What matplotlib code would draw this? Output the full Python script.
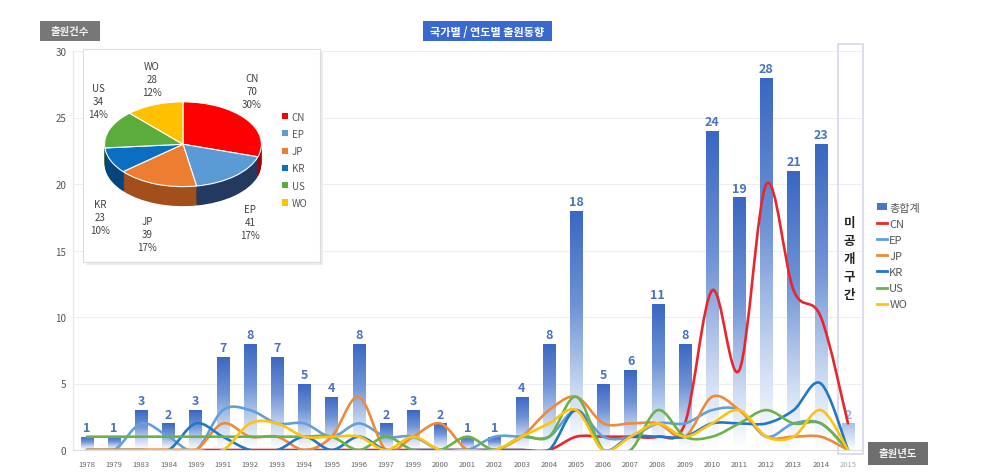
import numpy as np
import matplotlib
matplotlib.use("Agg")
import matplotlib.pyplot as plt
from matplotlib.path import Path
from matplotlib.patches import PathPatch, Patch, Rectangle
from matplotlib.lines import Line2D
from matplotlib.colors import LinearSegmentedColormap

plt.rcParams['font.family'] = ['Noto Sans CJK KR', 'DejaVu Sans']

# ---- data ----
years = ['1978', '1979', '1983', '1984', '1989', '1991', '1992', '1993', '1994', '1995',
         '1996', '1997', '1999', '2000', '2001', '2002', '2003', '2004', '2005', '2006',
         '2007', '2008', '2009', '2010', '2011', '2012', '2013', '2014', '2015']
totals = [1, 1, 3, 2, 3, 7, 8, 7, 5, 4, 8, 2, 3, 2, 1, 1, 4, 8, 18, 5, 6, 11, 8, 24, 19, 28, 21, 23, 2]

cn = [0, 0, 0, 0, 0, 0, 0, 0, 0, 0, 0, 0, 0, 0, 0, 0, 0, 0, 1, 1, 1, 1, 2, 12, 6, 20, 12, 10, 2]
ep = [0, 0, 2, 1, 0, 3, 3, 2, 2, 1, 2, 1, 1, 0, 0, 1, 1, 1, 3, 1, 1, 2, 2, 3, 3, 1, 2, 2, 0]
jp = [0, 0, 0, 0, 0, 2, 1, 1, 0, 1, 4, 0, 1, 2, 0, 0, 1, 3, 4, 2, 2, 2, 1, 4, 3, 1, 1, 1, 0]
kr = [0, 0, 0, 0, 2, 1, 0, 0, 1, 0, 1, 0, 0, 0, 0, 0, 0, 0, 3, 0, 1, 1, 1, 2, 2, 2, 3, 5, 0]
us = [1, 1, 1, 1, 1, 1, 1, 1, 1, 1, 0, 1, 0, 0, 1, 0, 1, 1, 4, 0, 0, 3, 1, 1, 2, 3, 2, 2, 0]
wo = [0, 0, 0, 0, 0, 0, 2, 2, 1, 1, 1, 0, 1, 0, 0, 0, 1, 2, 3, 0, 1, 2, 1, 2, 3, 1, 1, 3, 0]

countries = ['CN', 'EP', 'JP', 'KR', 'US', 'WO']
pie_counts = [70, 41, 39, 23, 34, 28]

line_colors = ['#e8262b', '#62a0dc', '#ef8a3c', '#1f78c8', '#6cb24a', '#ffc20e']
pie_colors = ['#ff0000', '#5b9bd5', '#ed7d31', '#0a6fc2', '#5aad3a', '#ffc000']
side_colors = ['#a00000', '#24395e', '#a34f1c', '#03457e', '#3d6b22', '#b08600']

W, H = 995, 477


def fx(x):
    return x / W


def fy(y):
    return 1 - y / H


def smooth(xs, ys):
    pts = np.column_stack([xs, ys]).astype(float)
    p = np.vstack([pts[0], pts, pts[-1]])
    verts = [pts[0]]
    codes = [Path.MOVETO]
    for i in range(1, len(p) - 2):
        p0, p1, p2, p3 = p[i - 1], p[i], p[i + 1], p[i + 2]
        verts += [p1 + (p2 - p0) / 6, p2 - (p3 - p1) / 6, p2]
        codes += [Path.CURVE4] * 3
    return Path(verts, codes)


def label_box(x0, y0, x1, y1, text, fc, size, color='white'):
    # box drawn in pixel coords, text centred on it
    fig.add_artist(Rectangle((fx(x0), fy(y1)), (x1 - x0) / W, (y1 - y0) / H,
                             transform=fig.transFigure, fc=fc, ec='none'))
    fig.text(fx((x0 + x1) / 2), fy((y0 + y1) / 2), text, ha='center', va='center',
             fontsize=size, fontweight='bold', color=color)


fig = plt.figure(figsize=(9.95, 4.77), dpi=100)
ax = fig.add_axes([fx(73.4), fy(451), (861.6 - 73.4) / W, (451 - 52) / H])

x = np.arange(len(years))
bars = ax.bar(x, totals, width=0.46, color='none', edgecolor='none', zorder=2)

cmap = LinearSegmentedColormap.from_list(
    'bar', [(0, '#ffffff'), (0.25, '#c9d8f1'), (0.6, '#6f93d6'), (1, '#3a67c2')])
cmap_pale = LinearSegmentedColormap.from_list('pale', ['#ffffff', '#a9bfe6'])
grad = np.linspace(0, 1, 100).reshape(-1, 1)
for i, rect in enumerate(bars):
    x0 = rect.get_x()
    im = ax.imshow(grad, extent=(x0, x0 + rect.get_width(), 0, rect.get_height()),
                   origin='lower', cmap=cmap_pale if years[i] == '2015' else cmap,
                   vmin=0, vmax=1, aspect='auto', zorder=2)
    im.set_clip_path(rect)

labels = ax.bar_label(bars, padding=2, fontsize=9, fontweight='bold', color='#4a72c0')
labels[-1].set_color('#9db3e0')

series = [cn, ep, jp, kr, us, wo]
for vals, col in zip(series, line_colors):
    ax.add_patch(PathPatch(smooth(x, vals), fill=False, edgecolor=col, lw=1.9,
                           capstyle='round', zorder=3))

ax.set_xlim(-0.5, len(years) - 0.5)
ax.set_ylim(0, 30)
ax.set_aspect('auto')
ax.set_yticks([0, 5, 10, 15, 20, 25, 30])
ax.set_xticks(x)
ax.set_xticklabels(years)
ax.tick_params(axis='x', length=0, labelsize=5.5, labelcolor='#666666', pad=7)
ax.tick_params(axis='y', length=0, labelsize=7, labelcolor='#555555', pad=5)
ax.get_xticklabels()[-1].set_color('#aaaaaa')
ax.yaxis.grid(True, color='#eeeeee', lw=0.8)
ax.set_axisbelow(True)
for s in ['top', 'right']:
    ax.spines[s].set_visible(False)
ax.spines['left'].set_color('#e4e4e4')
ax.spines['bottom'].set_color('#dddddd')

# unpublished period box
ax.add_patch(Rectangle((fx(838), fy(455)), 25 / W, 410 / H, transform=fig.transFigure,
                       fill=False, ec='#d3d7e6', lw=1.2, clip_on=False, zorder=1))
for k, ch in enumerate('미공개구간'):
    fig.text(fx(849.5), fy(223 + 18 * k), ch, ha='center', va='center',
             fontsize=9, fontweight='bold', color='#222222')

# header boxes
label_box(423, 22, 552, 42, '국가별 / 연도별 출원동향', '#3868d0', 8)
label_box(40, 22, 100, 42, '출원건수', '#777777', 7.5, '#f2f2f2')
label_box(868, 443, 928, 466, '출원년도', '#6e6e6e', 7.5, '#f2f2f2')

# main legend
handles = [Patch(fc='#4a78c8', ec='none', label='총합계')]
handles += [Line2D([], [], color=c, lw=2, label=n) for c, n in zip(line_colors, countries)]
fig.legend(handles=handles, loc='center left', bbox_to_anchor=(fx(877), fy(257)),
           frameon=False, fontsize=8, labelspacing=0.55, handlelength=0.9,
           handleheight=0.6, handletextpad=0.2, borderpad=0, borderaxespad=0,
           labelcolor='#555555')

# pie inset box
ax.add_patch(Rectangle((fx(86), fy(266)), 237 / W, 213 / H, transform=fig.transFigure,
                       fc='#ececec', ec='none', clip_on=False, zorder=6))
ax_box = fig.add_axes([fx(83), fy(263), 237 / W, 213 / H])
ax_box.set_xlim(83, 320)
ax_box.set_ylim(263, 50)
ax_box.set_xticks([])
ax_box.set_yticks([])
for s in ax_box.spines.values():
    s.set_color('#dcdcdc')

ax_pie = fig.add_axes([fx(103), fy(208), 160 / W, 106 / H])
depth = 0.46
for d in np.linspace(depth, 0.02, 16):
    ax_pie.pie(pie_counts, colors=side_colors, startangle=90, counterclock=False,
               center=(0, -d), wedgeprops=dict(linewidth=0))
ax_pie.pie(pie_counts, colors=pie_colors, startangle=90, counterclock=False,
           wedgeprops=dict(linewidth=0.8, edgecolor='white'))
ax_pie.set_aspect('auto')
ax_pie.set_xlim(-1.02, 1.02)
ax_pie.set_ylim(-1 - depth - 0.02, 1.02)
ax_pie.axis('off')

label_pos = [(252, 92), (250, 223), (147, 235), (100, 218), (98, 102), (152, 80)]
total_pie = sum(pie_counts)
for name, val, (lx, ly) in zip(countries, pie_counts, label_pos):
    ax_box.text(lx, ly, f'{name}\n{val}\n{val / total_pie * 100:.0f}%', ha='center',
                va='center', fontsize=7, color='#404040', linespacing=1.35)

pie_handles = [Patch(fc=c, ec='none', label=n) for c, n in zip(pie_colors, countries)]
ax_box.legend(handles=pie_handles, loc='center left', bbox_to_anchor=(0.84, 0.48),
              frameon=False, fontsize=7, labelspacing=0.75, handlelength=0.6,
              handleheight=0.6, handletextpad=0.4, borderpad=0, borderaxespad=0,
              labelcolor='#555555')

fig.savefig('out.png', dpi=100, facecolor='white')
